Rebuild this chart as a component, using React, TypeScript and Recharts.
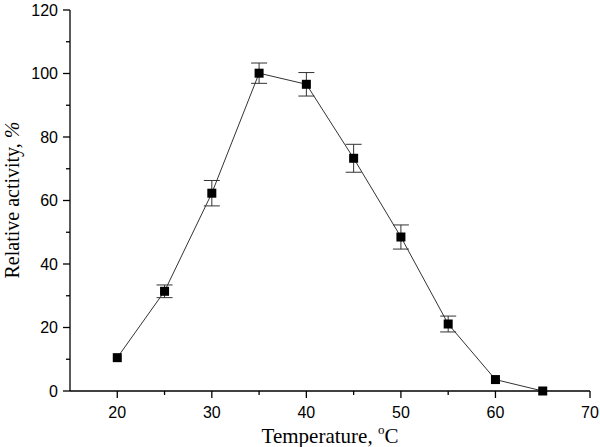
import { LineChart, Line, XAxis, YAxis, ErrorBar } from 'recharts'

const temperature = [20, 25, 30, 35, 40, 45, 50, 55, 60, 65]
const activity = [10.5, 31.4, 62.3, 100.1, 96.6, 73.3, 48.5, 21.1, 3.6, 0]
const errorValues = [0, 2, 4, 3.2, 3.7, 4.4, 3.8, 2.5, 0, 0]

const xTicks = [15, 20, 25, 30, 35, 40, 45, 50, 55, 60, 65, 70]
const yTicks = [0, 10, 20, 30, 40, 50, 60, 70, 80, 90, 100, 110, 120]

const data = temperature.map((t, i) => ({ t, activity: activity[i], err: errorValues[i] }))

const tickFont = { fontFamily: '"Liberation Sans", Arial, sans-serif', fontSize: 16, fill: '#000' }
const titleFont = { fontFamily: '"Liberation Serif", "Times New Roman", serif', fill: '#000' }

function YTick(props: any) {
  const { x, y, payload } = props
  const major = payload.value % 20 === 0
  return (
    <g>
      <line x1={x - (major ? 7 : 4)} x2={x} y1={y} y2={y} stroke="#000" strokeWidth={1.3} />
      {major && (
        <text x={x - 12} y={y} dy="0.36em" textAnchor="end" {...tickFont}>
          {payload.value}
        </text>
      )}
    </g>
  )
}

function XTick(props: any) {
  const { x, y, payload } = props
  if (payload.value === 15) return <g />
  const major = payload.value % 10 === 0
  return (
    <g>
      <line x1={x} x2={x} y1={y} y2={y + (major ? 7 : 4)} stroke="#000" strokeWidth={1.3} />
      {major && (
        <text x={x} y={y + 27} textAnchor="middle" {...tickFont}>
          {payload.value}
        </text>
      )}
    </g>
  )
}

function Square(props: any) {
  const { cx, cy, index } = props
  return <rect key={index} x={cx - 4.5} y={cy - 4.5} width={9} height={9} fill="#000" />
}

export default function App() {
  return (
    <div style={{ position: 'absolute', left: 0, top: 0, background: '#fff' }}>
      <LineChart width={600} height={447} data={data} margin={{ top: 10, right: 10, left: 0, bottom: 0 }}>
        <XAxis
          dataKey="t"
          type="number"
          domain={[15, 70]}
          ticks={xTicks}
          interval={0}
          allowDataOverflow
          height={56}
          tickSize={0}
          tickMargin={0}
          tickLine={false}
          tick={XTick}
          axisLine={{ stroke: '#000', strokeWidth: 1.3 }}
          label={{
            content: () => (
              <text x={330} y={443} textAnchor="middle" fontSize={21} {...titleFont}>
                Temperature, <tspan dy={-9} fontSize={13}>o</tspan>
                <tspan dy={9}>C</tspan>
              </text>
            ),
          }}
        />
        <YAxis
          type="number"
          domain={[0, 120]}
          ticks={yTicks}
          interval={0}
          width={70}
          tickSize={0}
          tickMargin={0}
          tickLine={false}
          tick={YTick}
          axisLine={{ stroke: '#000', strokeWidth: 1.3 }}
          label={{
            content: () => (
              <text x={19} y={200} transform="rotate(-90 19 200)" textAnchor="middle" fontSize={20} {...titleFont}>
                Relative activity, <tspan fontStyle="italic">%</tspan>
              </text>
            ),
          }}
        />
        <Line
          dataKey="activity"
          stroke="#333"
          strokeWidth={1}
          dot={Square}
          activeDot={false}
          isAnimationActive={false}
        >
          <ErrorBar dataKey="err" width={8} stroke="#333" strokeWidth={1} direction="y" />
        </Line>
      </LineChart>
    </div>
  )
}
